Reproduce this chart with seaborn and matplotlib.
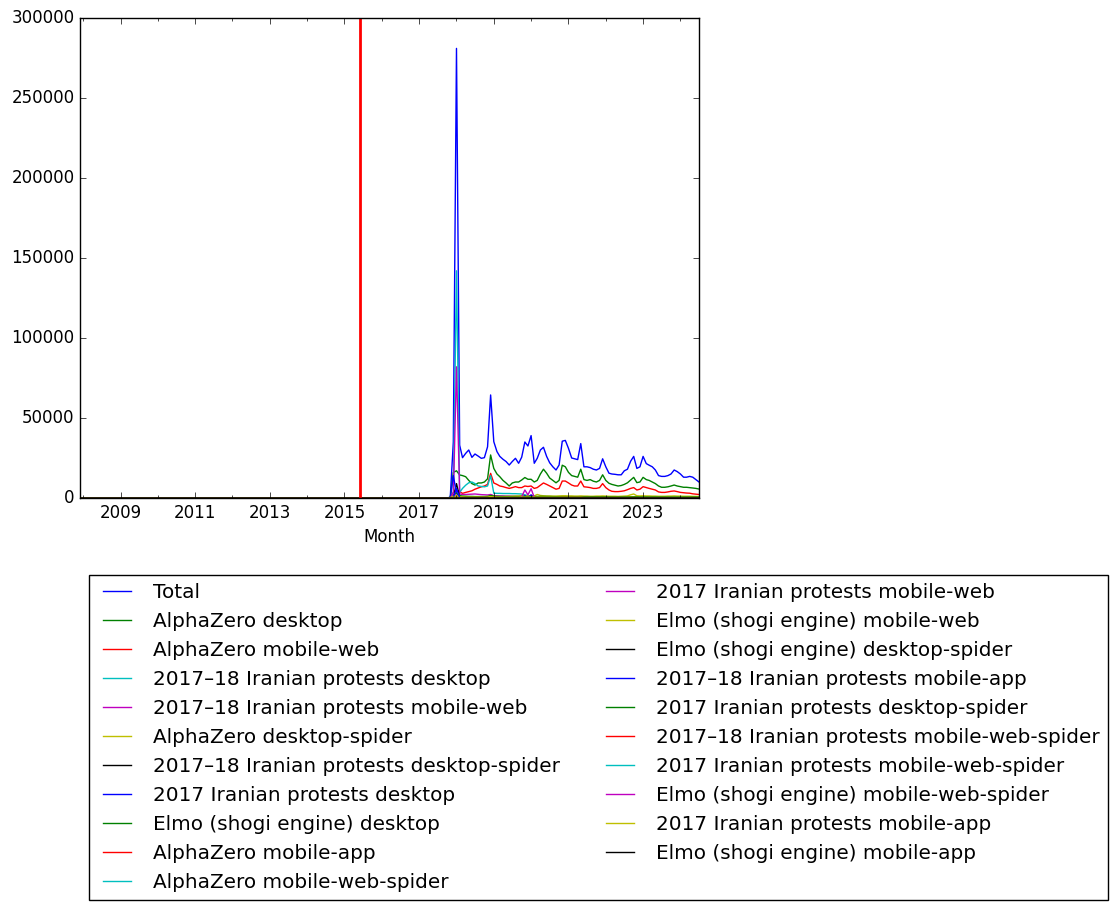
import pandas as pd
import matplotlib
matplotlib.use("Agg")
import matplotlib.pyplot as plt
import matplotlib.dates as mdates
from matplotlib.ticker import FixedLocator, FuncFormatter
from matplotlib.lines import Line2D
import seaborn as sns

plt.style.use("classic")
plt.rcParams["font.family"] = ["DejaVu Sans"]
plt.rcParams["figure.facecolor"] = "white"
plt.rcParams["savefig.facecolor"] = "white"

# ---------------- data ----------------
FIRST_MONTH = "2007-12-01"
LAST_MONTH = "2024-07-01"
LEAD_ZEROS = [0] * 119          # 2007-12 .. 2017-10: every series is zero
RED_LINE_DATE = "2015-06-01"
Y_TICKS = [0, 50000, 100000, 150000, 200000, 250000, 300000]
MAJOR_YEARS = [2009, 2011, 2013, 2015, 2017, 2019, 2021, 2023]

SERIES_NAMES = [
    "Total",
    "AlphaZero desktop",
    "AlphaZero mobile-web",
    "2017\u201318 Iranian protests desktop",
    "2017\u201318 Iranian protests mobile-web",
    "AlphaZero desktop-spider",
    "2017\u201318 Iranian protests desktop-spider",
    "2017 Iranian protests desktop",
    "Elmo (shogi engine) desktop",
    "AlphaZero mobile-app",
    "AlphaZero mobile-web-spider",
    "2017 Iranian protests mobile-web",
    "Elmo (shogi engine) mobile-web",
    "Elmo (shogi engine) desktop-spider",
    "2017\u201318 Iranian protests mobile-app",
    "2017 Iranian protests desktop-spider",
    "2017\u201318 Iranian protests mobile-web-spider",
    "2017 Iranian protests mobile-web-spider",
    "Elmo (shogi engine) mobile-web-spider",
    "2017 Iranian protests mobile-app",
    "Elmo (shogi engine) mobile-app",
]
SERIES_COLORS = ["#0000ff", "#008000", "#ff0000", "#00bfbf", "#bf00bf", "#bfbf00", "#000000"] * 3

# values from 2017-11 to 2024-07 (81 months); rows: 2017(Nov,Dec), 2018..2023, 2024(Jan-Jul)
TOTAL = [
    500, 35000,
    281000, 33000, 25200, 27900, 30000, 25400, 27500, 26200, 24800, 25200, 32000, 64400,
    35200, 29000, 26000, 24200, 22800, 20600, 22800, 24800, 21700, 25500, 35000, 32500,
    39000, 21700, 24800, 30000, 31700, 26000, 22000, 19500, 17500, 20600, 35500, 36000,
    31000, 25000, 24500, 24000, 34000, 19500, 19500, 19000, 18000, 17500, 18500, 24500,
    19500, 15500, 15000, 14800, 14500, 14500, 17000, 18000, 23000, 26000, 18500, 19500,
    26000, 21500, 20500, 19500, 17500, 14000, 13500, 13500, 14000, 15000, 17500, 16500,
    15000, 13000, 13000, 13500, 13000, 11500, 10000,
]
AZ_DESKTOP = [
    0, 16000,
    17000, 14400, 14000, 13300, 11000, 9000, 8100, 9400, 9400, 10000, 12000, 26900,
    18500, 15000, 13300, 11000, 9400, 7500, 9400, 10000, 10000, 11250, 12800, 11700,
    11700, 10000, 11000, 15000, 18000, 15500, 12500, 11000, 9500, 11000, 20500, 19500,
    16000, 14000, 13500, 13000, 18000, 11500, 11000, 11500, 10500, 10000, 11000, 14500,
    11000, 9200, 8500, 8000, 7500, 7800, 8500, 9500, 11250, 12900, 9600, 10000,
    12900, 11500, 11000, 10000, 9000, 7500, 6700, 6700, 7000, 7500, 8100, 7500,
    7100, 6700, 6700, 6500, 6250, 6000, 5600,
]
AZ_MOBILE_WEB = [
    0, 3500,
    5000, 4000, 2900, 3500, 4000, 4500, 5500, 6250, 7000, 7500, 8500, 15400,
    9400, 8500, 7500, 7100, 6500, 6000, 6500, 7100, 6500, 6500, 7500, 7200,
    7500, 6000, 6500, 8000, 9400, 8500, 7500, 6500, 5500, 6000, 10600, 10600,
    9400, 8100, 7500, 7500, 10600, 7000, 6800, 6500, 6000, 6000, 6500, 9000,
    6500, 5000, 4200, 4000, 4000, 4200, 4500, 5200, 6000, 6500, 5000, 5500,
    7100, 6500, 6000, 5500, 5000, 3800, 3500, 3500, 3800, 4200, 4400, 4000,
    3500, 3300, 3100, 3000, 2600, 2400, 2200,
]
IP1718_DESKTOP = [
    0, 1500,
    142000, 3500, 6000, 8000, 9500, 10000, 9000, 7500, 7200, 7000, 7500, 14000,
    3000, 2900, 2900, 2800, 2800, 2800, 2700, 2700, 2600, 2500, 2000, 1500,
    1200, 1000, 900, 800, 700, 600, 500, 400, 300, 200, 100, 0,
    0, 0, 0, 0, 0, 0, 0, 0, 0, 0, 0, 0,
    0, 0, 0, 0, 0, 0, 0, 0, 0, 0, 0, 0,
    0, 0, 0, 0, 0, 0, 0, 0, 0, 0, 0, 0,
    0, 0, 0, 0, 0, 0, 0,
]
IP1718_MOBILE_WEB = [
    0, 800,
    82000, 2500, 2200, 2200, 2300, 2400, 2500, 2300, 2100, 2000, 1900, 2200,
    1500, 1400, 1300, 1300, 1200, 1200, 1100, 1100, 1000, 900, 700, 500,
    400, 300, 250, 200, 150, 100, 80, 60, 40, 20, 0, 0,
    0, 0, 0, 0, 0, 0, 0, 0, 0, 0, 0, 0,
    0, 0, 0, 0, 0, 0, 0, 0, 0, 0, 0, 0,
    0, 0, 0, 0, 0, 0, 0, 0, 0, 0, 0, 0,
    0, 0, 0, 0, 0, 0, 0,
]
AZ_DESKTOP_SPIDER = [
    0, 300,
    1200, 600, 500, 500, 600, 600, 700, 700, 800, 800, 900, 1500,
    1000, 900, 900, 900, 1000, 1000, 1100, 1200, 1300, 1500, 1400, 1300,
    1500, 1300, 2200, 1600, 1400, 1300, 1300, 1200, 1200, 1300, 1400, 1400,
    1300, 1300, 1200, 1200, 1300, 1200, 1200, 1100, 1100, 1200, 1200, 1300,
    1200, 1100, 1100, 1100, 1000, 1100, 1200, 1300, 2000, 2500, 1400, 1300,
    1400, 1300, 1300, 1200, 1200, 1100, 1100, 1100, 1200, 1200, 1300, 1200,
    1200, 1100, 1100, 1100, 1000, 1000, 900,
]
IP1718_DESKTOP_SPIDER = [
    0, 100,
    9000, 600, 400, 350, 300, 300, 300, 300, 300, 300, 300, 400,
    300, 250, 250, 250, 200, 200, 200, 200, 200, 200, 150, 150,
    100, 100, 100, 100, 100, 100, 100, 100, 100, 100, 100, 100,
    50, 50, 50, 50, 50, 50, 50, 50, 50, 50, 50, 50,
    40, 40, 40, 40, 40, 40, 40, 40, 40, 40, 40, 40,
    30, 30, 30, 30, 30, 30, 30, 30, 30, 30, 30, 30,
    30, 30, 30, 30, 30, 30, 30,
]
IP17_DESKTOP = [
    0, 14000,
    3000, 200, 100, 100, 80, 80, 60, 60, 50, 50, 50, 50,
    50, 50, 50, 50, 50, 50, 50, 50, 50, 50, 1500, 300,
    2000, 100, 80, 60, 50, 50, 40, 40, 40, 40, 40, 40,
    30, 30, 30, 30, 30, 30, 30, 30, 30, 30, 30, 30,
    30, 30, 30, 30, 30, 30, 30, 30, 30, 30, 30, 30,
    20, 20, 20, 20, 20, 20, 20, 20, 20, 20, 20, 20,
    20, 20, 20, 20, 20, 20, 20,
]
ELMO_DESKTOP = [
    400, 2500,
    3000, 1500, 1200, 1100, 1000, 1000, 900, 900, 900, 900, 1000, 1500,
    1200, 1000, 1000, 900, 900, 900, 900, 900, 900, 900, 900, 900,
    900, 850, 900, 1000, 1000, 950, 900, 900, 850, 850, 900, 900,
    900, 900, 850, 850, 900, 800, 800, 800, 800, 800, 800, 850,
    800, 750, 750, 700, 700, 700, 700, 750, 800, 800, 750, 750,
    750, 750, 700, 700, 700, 650, 650, 650, 650, 650, 650, 650,
    650, 600, 600, 600, 600, 600, 550,
]
AZ_MOBILE_APP = [
    0, 200,
    400, 300, 250, 250, 250, 250, 250, 250, 250, 250, 300, 500,
    300, 250, 250, 250, 250, 250, 250, 250, 250, 250, 250, 250,
    250, 250, 250, 300, 300, 250, 250, 250, 250, 250, 350, 350,
    300, 300, 300, 300, 350, 250, 250, 250, 250, 250, 250, 300,
    250, 200, 200, 200, 200, 200, 200, 200, 250, 250, 200, 200,
    250, 200, 200, 200, 200, 150, 150, 150, 150, 150, 150, 150,
    150, 150, 150, 150, 120, 120, 100,
]
AZ_MOBILE_WEB_SPIDER = [
    0, 10,
    40, 20, 20, 20, 20, 20, 20, 20, 20, 20, 20, 60,
    30, 30, 30, 30, 30, 30, 30, 30, 30, 30, 30, 30,
    30, 30, 30, 30, 30, 30, 30, 30, 30, 30, 30, 30,
    20, 20, 20, 20, 20, 20, 20, 20, 20, 20, 20, 20,
    20, 20, 20, 20, 20, 20, 20, 20, 20, 20, 20, 20,
    20, 20, 20, 20, 20, 20, 20, 20, 20, 20, 20, 20,
    20, 20, 20, 20, 20, 20, 20,
]
IP17_MOBILE_WEB = [
    0, 3000,
    1500, 100, 50, 50, 50, 40, 40, 40, 40, 40, 40, 40,
    40, 40, 40, 40, 40, 40, 40, 40, 40, 800, 5000, 2000,
    5800, 300, 60, 40, 40, 40, 30, 30, 30, 30, 30, 30,
    30, 30, 30, 30, 30, 30, 30, 30, 30, 30, 30, 30,
    20, 20, 20, 20, 20, 20, 20, 20, 20, 20, 20, 20,
    20, 20, 20, 20, 20, 20, 20, 20, 20, 20, 20, 20,
    20, 20, 20, 20, 20, 20, 20,
]
ELMO_MOBILE_WEB = [
    100, 1200,
    1500, 700, 600, 500, 500, 500, 450, 450, 450, 450, 500, 900,
    600, 500, 500, 450, 450, 450, 450, 450, 450, 450, 450, 450,
    450, 450, 450, 500, 500, 450, 450, 450, 450, 450, 500, 500,
    450, 450, 450, 450, 500, 400, 400, 400, 400, 400, 400, 450,
    400, 380, 380, 350, 350, 350, 350, 380, 400, 400, 380, 380,
    380, 380, 350, 350, 350, 330, 330, 330, 330, 330, 330, 330,
    330, 300, 300, 300, 300, 300, 280,
]
ELMO_DESKTOP_SPIDER = [
    10, 60,
    80, 50, 50, 50, 50, 50, 50, 50, 50, 50, 50, 60,
    50, 50, 50, 50, 50, 50, 50, 50, 50, 50, 50, 50,
    50, 50, 50, 50, 50, 50, 50, 50, 50, 50, 50, 50,
    40, 40, 40, 40, 40, 40, 40, 40, 40, 40, 40, 40,
    40, 40, 40, 40, 40, 40, 40, 40, 40, 40, 40, 40,
    30, 30, 30, 30, 30, 30, 30, 30, 30, 30, 30, 30,
    30, 30, 30, 30, 30, 30, 30,
]
IP1718_MOBILE_APP = [
    0, 300,
    6000, 200, 150, 120, 100, 100, 100, 100, 90, 90, 90, 100,
    80, 80, 80, 70, 70, 70, 70, 60, 60, 60, 50, 50,
    40, 30, 30, 20, 20, 20, 10, 10, 10, 10, 0, 0,
    0, 0, 0, 0, 0, 0, 0, 0, 0, 0, 0, 0,
    0, 0, 0, 0, 0, 0, 0, 0, 0, 0, 0, 0,
    0, 0, 0, 0, 0, 0, 0, 0, 0, 0, 0, 0,
    0, 0, 0, 0, 0, 0, 0,
]
IP17_DESKTOP_SPIDER = [
    0, 100,
    60, 10, 10, 10, 10, 10, 10, 10, 10, 10, 10, 10,
    10, 10, 10, 10, 10, 10, 10, 10, 10, 10, 20, 10,
    20, 10, 10, 10, 10, 10, 10, 10, 10, 10, 10, 10,
    10, 10, 10, 10, 10, 10, 10, 10, 10, 10, 10, 10,
    10, 10, 10, 10, 10, 10, 10, 10, 10, 10, 10, 10,
    10, 10, 10, 10, 10, 10, 10, 10, 10, 10, 10, 10,
    10, 10, 10, 10, 10, 10, 10,
]
IP1718_MOBILE_WEB_SPIDER = [
    0, 10,
    200, 20, 15, 15, 15, 15, 15, 15, 15, 15, 15, 15,
    10, 10, 10, 10, 10, 10, 10, 10, 10, 10, 10, 10,
    10, 10, 10, 10, 10, 10, 5, 5, 5, 5, 0, 0,
    0, 0, 0, 0, 0, 0, 0, 0, 0, 0, 0, 0,
    0, 0, 0, 0, 0, 0, 0, 0, 0, 0, 0, 0,
    0, 0, 0, 0, 0, 0, 0, 0, 0, 0, 0, 0,
    0, 0, 0, 0, 0, 0, 0,
]
IP17_MOBILE_WEB_SPIDER = [
    0, 20,
    10, 5, 5, 5, 5, 5, 5, 5, 5, 5, 5, 5,
    5, 5, 5, 5, 5, 5, 5, 5, 5, 5, 10, 5,
    10, 5, 5, 5, 5, 5, 5, 5, 5, 5, 5, 5,
    5, 5, 5, 5, 5, 5, 5, 5, 5, 5, 5, 5,
    5, 5, 5, 5, 5, 5, 5, 5, 5, 5, 5, 5,
    5, 5, 5, 5, 5, 5, 5, 5, 5, 5, 5, 5,
    5, 5, 5, 5, 5, 5, 5,
]
ELMO_MOBILE_WEB_SPIDER = [
    0, 10,
    20, 10, 10, 10, 10, 10, 10, 10, 10, 10, 10, 10,
    10, 10, 10, 10, 10, 10, 10, 10, 10, 10, 10, 10,
    10, 10, 10, 10, 10, 10, 10, 10, 10, 10, 10, 10,
    10, 10, 10, 10, 10, 10, 10, 10, 10, 10, 10, 10,
    10, 10, 10, 10, 10, 10, 10, 10, 10, 10, 10, 10,
    10, 10, 10, 10, 10, 10, 10, 10, 10, 10, 10, 10,
    10, 10, 10, 10, 10, 10, 10,
]
IP17_MOBILE_APP = [
    0, 500,
    200, 10, 5, 5, 5, 5, 5, 5, 5, 5, 5, 5,
    5, 5, 5, 5, 5, 5, 5, 5, 5, 5, 20, 5,
    20, 5, 5, 5, 5, 5, 5, 5, 5, 5, 5, 5,
    5, 5, 5, 5, 5, 5, 5, 5, 5, 5, 5, 5,
    5, 5, 5, 5, 5, 5, 5, 5, 5, 5, 5, 5,
    5, 5, 5, 5, 5, 5, 5, 5, 5, 5, 5, 5,
    5, 5, 5, 5, 5, 5, 5,
]
ELMO_MOBILE_APP = [
    0, 30,
    40, 20, 20, 20, 20, 20, 20, 20, 20, 20, 20, 30,
    20, 20, 20, 20, 20, 20, 20, 20, 20, 20, 20, 20,
    20, 20, 20, 20, 20, 20, 20, 20, 20, 20, 20, 20,
    20, 20, 20, 20, 20, 20, 20, 20, 20, 20, 20, 20,
    15, 15, 15, 15, 15, 15, 15, 15, 15, 15, 15, 15,
    15, 15, 15, 15, 15, 15, 15, 15, 15, 15, 15, 15,
    15, 15, 15, 15, 15, 15, 15,
]

SERIES_VALUES = [
    TOTAL, AZ_DESKTOP, AZ_MOBILE_WEB, IP1718_DESKTOP, IP1718_MOBILE_WEB,
    AZ_DESKTOP_SPIDER, IP1718_DESKTOP_SPIDER, IP17_DESKTOP, ELMO_DESKTOP,
    AZ_MOBILE_APP, AZ_MOBILE_WEB_SPIDER, IP17_MOBILE_WEB, ELMO_MOBILE_WEB,
    ELMO_DESKTOP_SPIDER, IP1718_MOBILE_APP, IP17_DESKTOP_SPIDER,
    IP1718_MOBILE_WEB_SPIDER, IP17_MOBILE_WEB_SPIDER, ELMO_MOBILE_WEB_SPIDER,
    IP17_MOBILE_APP, ELMO_MOBILE_APP,
]

# ---------------- table ----------------
months = pd.date_range(FIRST_MONTH, LAST_MONTH, freq="MS")
frames = []
for name, vals in zip(SERIES_NAMES, SERIES_VALUES):
    full = LEAD_ZEROS + list(vals)
    frames.append(pd.DataFrame({"Month": months, "Views": full, "Series": name}))
df = pd.concat(frames, ignore_index=True)

# ---------------- plot ----------------
W, H = 1118, 911
fig = plt.figure(figsize=(W / 100, H / 100), dpi=100)
ax = fig.add_axes([80 / W, 1 - 498 / H, (699 - 80) / W, (498 - 18) / H])

palette = dict(zip(SERIES_NAMES, SERIES_COLORS))
sns.lineplot(
    data=df, x="Month", y="Views", hue="Series", hue_order=SERIES_NAMES,
    palette=palette, linewidth=1, estimator=None, errorbar=None,
    legend=False, ax=ax,
)
ax.axvline(pd.Timestamp(RED_LINE_DATE), color="red", linewidth=2)

ax.set_xlim(months[0], months[-1])
ax.set_ylim(Y_TICKS[0], Y_TICKS[-1])
ax.set_yticks(Y_TICKS)
ax.yaxis.set_major_formatter(FuncFormatter(lambda v, p: f"{int(v)}"))
ax.xaxis.set_major_locator(FixedLocator(mdates.date2num(
    [pd.Timestamp(f"{y}-01-01") for y in MAJOR_YEARS])))
ax.xaxis.set_major_formatter(mdates.DateFormatter("%Y"))
ax.xaxis.set_minor_locator(mdates.YearLocator(1))
ax.set_xlabel("Month", fontsize=12)
ax.set_ylabel("")
ax.tick_params(labelsize=12)

handles = [Line2D([], [], color=palette[n], linewidth=1) for n in SERIES_NAMES]
leg = fig.legend(
    handles, SERIES_NAMES, loc="upper left", bbox_to_anchor=(89 / W, 1 - 575 / H),
    ncol=2, fontsize=14.4, frameon=True, fancybox=False, numpoints=2,
    handlelength=2.0, handletextpad=0.8, labelspacing=0.5, borderaxespad=0,
    columnspacing=2.0, borderpad=0.4,
)
leg.get_frame().set_edgecolor("black")
leg.get_frame().set_linewidth(1)

fig.savefig("out.png", dpi=100, facecolor="white")
